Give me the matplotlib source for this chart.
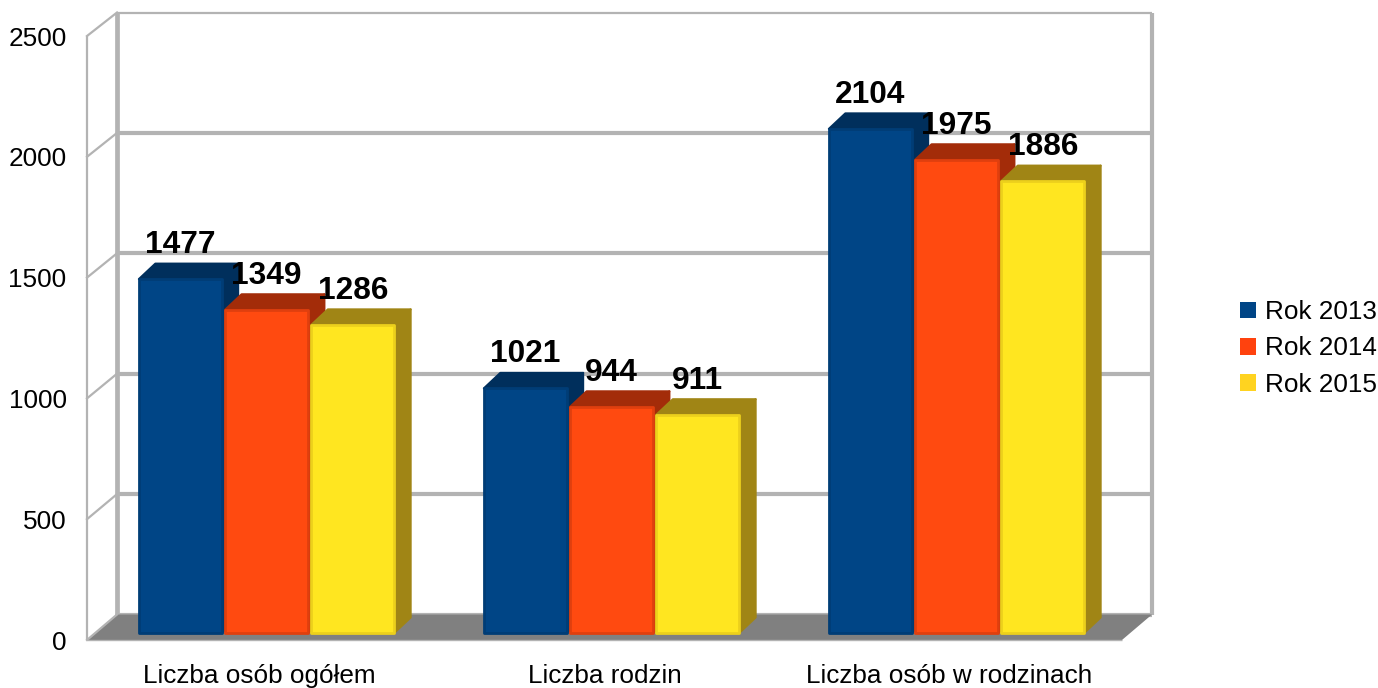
import matplotlib
matplotlib.use("Agg")
import matplotlib.pyplot as plt
import numpy as np
from matplotlib.patches import Polygon, Patch
from matplotlib.transforms import IdentityTransform

plt.rcParams['font.family'] = ['Liberation Sans', 'DejaVu Sans']

categories = ["Liczba osób ogółem", "Liczba rodzin", "Liczba osób w rodzinach"]
series_names = ["Rok 2013", "Rok 2014", "Rok 2015"]
rok_2013 = [1477, 1021, 2104]
rok_2014 = [1349, 944, 1975]
rok_2015 = [1286, 911, 1886]
y_ticks = [0, 500, 1000, 1500, 2000, 2500]

face_colors = ["#004586", "#ff4a10", "#ffe620"]
edge_colors = ["#003d76", "#e03f0e", "#ecd01c"]
dark_colors = ["#002f5c", "#a32c09", "#a08515"]
legend_colors = ["#004586", "#ff420e", "#ffd320"]
GRID = "#b3b3b3"
FLOOR = "#808080"

W, H = 1378, 688
fig = plt.figure(figsize=(W / 100, H / 100), dpi=100)


def make_axes(left, right, y0, y_top, zorder):
    a = fig.add_axes([left / W, 1 - y0 / H, (right - left) / W, (y0 - y_top) / H], zorder=zorder)
    a.set_xlim(0, 3)
    a.set_ylim(0, 2500)
    a.patch.set_visible(False)
    for s in a.spines.values():
        s.set_visible(False)
    return a


back = make_axes(117, 1152, 614.5, 12.5, 1)
front = make_axes(87, 1122, 640, 36, 2)
bars = make_axes(94, 1129, 633, 34, 3)

back.set_xticks([])
back.set_yticks([])
bars.set_xticks([])
bars.set_yticks([])

front.set_yticks(y_ticks)
front.set_yticklabels([str(t) for t in y_ticks], fontsize=18.8)
front.set_xticks(np.arange(len(categories)) + 0.5)
front.set_xticklabels(categories, fontsize=18.8)
front.tick_params(axis='both', length=0)
front.tick_params(axis='y', pad=14.7)
front.tick_params(axis='x', pad=17)

# back wall
for t in y_ticks:
    lw = 1.6 if t == y_ticks[-1] else 3.0
    back.plot([0, 3], [t, t], color=GRID, lw=lw, solid_capstyle='butt', clip_on=False)
back.plot([0, 0], [0, 2500], color=GRID, lw=3.4, solid_capstyle='butt', clip_on=False)
back.plot([3, 3], [0, 2500], color=GRID, lw=3.0, solid_capstyle='butt', clip_on=False)

# floor, side wall
f0 = front.transData.transform([(0, 0), (3, 0)])
b0 = back.transData.transform([(0, 0), (3, 0)])
front.add_patch(Polygon([f0[0], f0[1], b0[1], b0[0]], closed=True, facecolor=FLOOR, edgecolor='none',
                        transform=IdentityTransform(), clip_on=False))
for t in y_ticks:
    pf = front.transData.transform((0, t))
    pb = back.transData.transform((0, t))
    front.plot([pf[0], pb[0]], [pf[1], pb[1]], color=GRID, lw=1.6,
               transform=IdentityTransform(), clip_on=False)
front.plot([0, 0], [0, 2500], color=GRID, lw=1.6, solid_capstyle='butt', clip_on=False)
front.plot([0, 3], [0, 0], color=GRID, lw=1.0, solid_capstyle='butt', clip_on=False)

# bars
DX, DY = 16.5, 15.5
bar_w = 0.24
offsets = [-0.25, 0.0, 0.25]
all_series = [rok_2013, rok_2014, rok_2015]
z = 10
for c in range(len(categories)):
    for s, vals in enumerate(all_series):
        x = c + 0.5 + offsets[s]
        v = vals[c]
        (lx, by), (rx, ty) = bars.transData.transform([(x - bar_w / 2, 0), (x + bar_w / 2, v)])
        for verts in (
            [(lx, ty), (lx + DX, ty + DY), (rx + DX, ty + DY), (rx, ty)],
            [(rx, by), (rx + DX, by + DY), (rx + DX, ty + DY), (rx, ty)],
        ):
            bars.add_patch(Polygon(verts, closed=True, facecolor=dark_colors[s], edgecolor=dark_colors[s],
                                   linewidth=1.5, joinstyle='round',
                                   transform=IdentityTransform(), zorder=z, clip_on=False))
        bars.bar(x, v, width=bar_w, color=face_colors[s], edgecolor=edge_colors[s], linewidth=2.0,
                 joinstyle='round', zorder=z + 1, clip_on=False)
        bars.annotate(str(v), (x, v), xytext=(0, 24.4), textcoords='offset points',
                      ha='center', va='center', fontsize=22.8, fontweight='bold',
                      color='black', zorder=500, annotation_clip=False)
        z += 2

handles = [Patch(facecolor=col, edgecolor='none', label=n) for col, n in zip(legend_colors, series_names)]
fig.legend(handles=handles, loc='center left', bbox_to_anchor=(1232 / W, 1 - 348.5 / H), frameon=False,
           fontsize=18.8, handlelength=0.6, handleheight=0.6, handletextpad=0.35, labelspacing=0.476,
           borderpad=0.3, borderaxespad=0)

fig.savefig("out.png", dpi=100, facecolor='white')
